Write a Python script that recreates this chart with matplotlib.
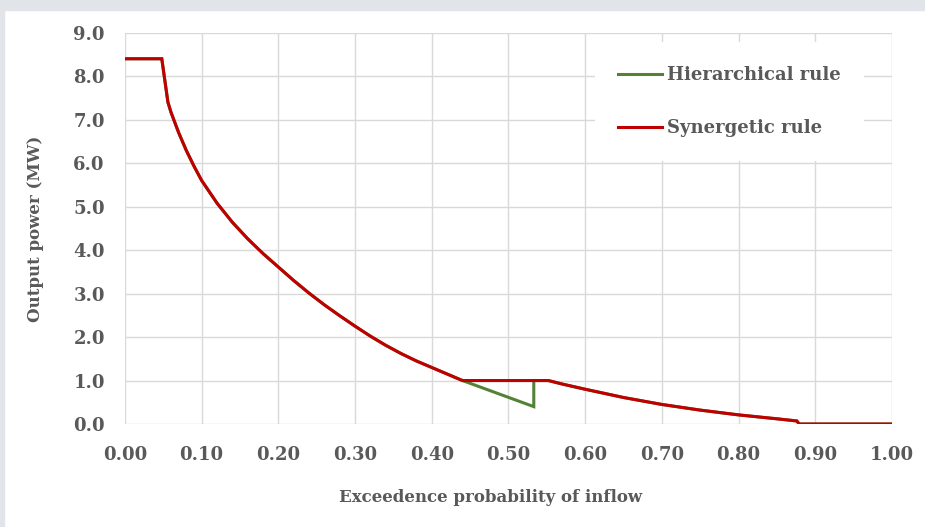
import matplotlib

matplotlib.use("Agg")
import matplotlib.pyplot as plt
from matplotlib.patches import Rectangle

# Exceedance probability of inflow vs. output power (MW)
synergetic_p = [0.0, 0.048, 0.056, 0.06, 0.07, 0.08, 0.09, 0.10, 0.12, 0.14, 0.16,
                0.18, 0.20, 0.22, 0.24, 0.26, 0.28, 0.30, 0.32, 0.34, 0.36, 0.38,
                0.40, 0.42, 0.44, 0.552, 0.57, 0.60, 0.65, 0.70, 0.75, 0.80, 0.85,
                0.876, 0.879, 1.0]
synergetic_mw = [8.4, 8.4, 7.40, 7.17, 6.70, 6.29, 5.93, 5.60, 5.08, 4.64, 4.26,
                 3.92, 3.61, 3.30, 3.01, 2.74, 2.49, 2.25, 2.02, 1.81, 1.62, 1.45,
                 1.30, 1.15, 1.00, 1.00, 0.92, 0.80, 0.61, 0.45, 0.32, 0.21, 0.12,
                 0.07, 0.0, 0.0]

# hierarchical rule dips below 1 MW before jumping back at p = 0.533
split = synergetic_p.index(0.44) + 1
hierarchical_p = synergetic_p[:split] + [0.533, 0.533] + synergetic_p[split:]
hierarchical_mw = synergetic_mw[:split] + [0.40, 1.0] + synergetic_mw[split:]

x_ticks = [i / 10 for i in range(11)]
y_ticks = list(range(10))

TEXT = "#595959"
GRID = "#d9d9d9"
GREEN = "#548235"
RED = "#c00000"
FONT = "DejaVu Serif"

fig = plt.figure(figsize=(9.25, 5.27), dpi=100)
fig.patches.append(Rectangle((0, 0.981), 1, 0.019, transform=fig.transFigure,
                             color="#e1e4e8", zorder=0))
fig.patches.append(Rectangle((0, 0), 0.0045, 1, transform=fig.transFigure,
                             color="#e1e4e8", zorder=0))
ax = fig.add_axes([0.1351, 0.1954, 0.8292, 0.7426])

ax.plot(hierarchical_p, hierarchical_mw, color=GREEN, lw=2.2, label="Hierarchical rule",
        solid_joinstyle="miter", zorder=3)
ax.plot(synergetic_p, synergetic_mw, color=RED, lw=2.2, label="Synergetic rule",
        solid_joinstyle="miter", zorder=4)

ax.set_xlim(0, 1)
ax.set_ylim(0, 9)
ax.set_xticks(x_ticks)
ax.set_yticks(y_ticks)
ax.set_xticklabels([f"{v:.2f}" for v in x_ticks])
ax.set_yticklabels([f"{v:.1f}" for v in y_ticks])
ax.grid(True, color=GRID, lw=1.0, zorder=0)
ax.set_axisbelow(True)
for s in ax.spines.values():
    s.set_visible(False)
ax.tick_params(axis="both", length=0, colors=TEXT)
ax.tick_params(axis="y", pad=14.5)
ax.tick_params(axis="x", pad=15.5)
for lab in ax.get_xticklabels() + ax.get_yticklabels():
    lab.set_fontfamily(FONT)
    lab.set_fontweight("bold")
    lab.set_fontsize(13)

ax.set_xlabel("Exceedence probability of inflow", family=FONT, weight="bold",
              fontsize=12, color=TEXT)
ax.set_ylabel("Output power (MW)", family=FONT, weight="bold", fontsize=12, color=TEXT)
ax.xaxis.set_label_coords(0.476, -0.187)
ax.yaxis.set_label_coords(-0.117, 0.5)
ax.xaxis.label.set_va("center")
ax.yaxis.label.set_va("center")

leg = ax.legend(loc="upper right", bbox_to_anchor=(0.964, 0.975), borderaxespad=0,
                frameon=True, fancybox=False, edgecolor="white", facecolor="white",
                framealpha=1, handlelength=2.4, handletextpad=0.3, labelspacing=1.95,
                borderpad=1.3, prop={"family": FONT, "weight": "bold", "size": 13})
leg.get_frame().set_linewidth(0)
for t in leg.get_texts():
    t.set_color(TEXT)
for h in leg.get_lines():
    h.set_linewidth(2.2)

fig.savefig("out.png", dpi=100)
